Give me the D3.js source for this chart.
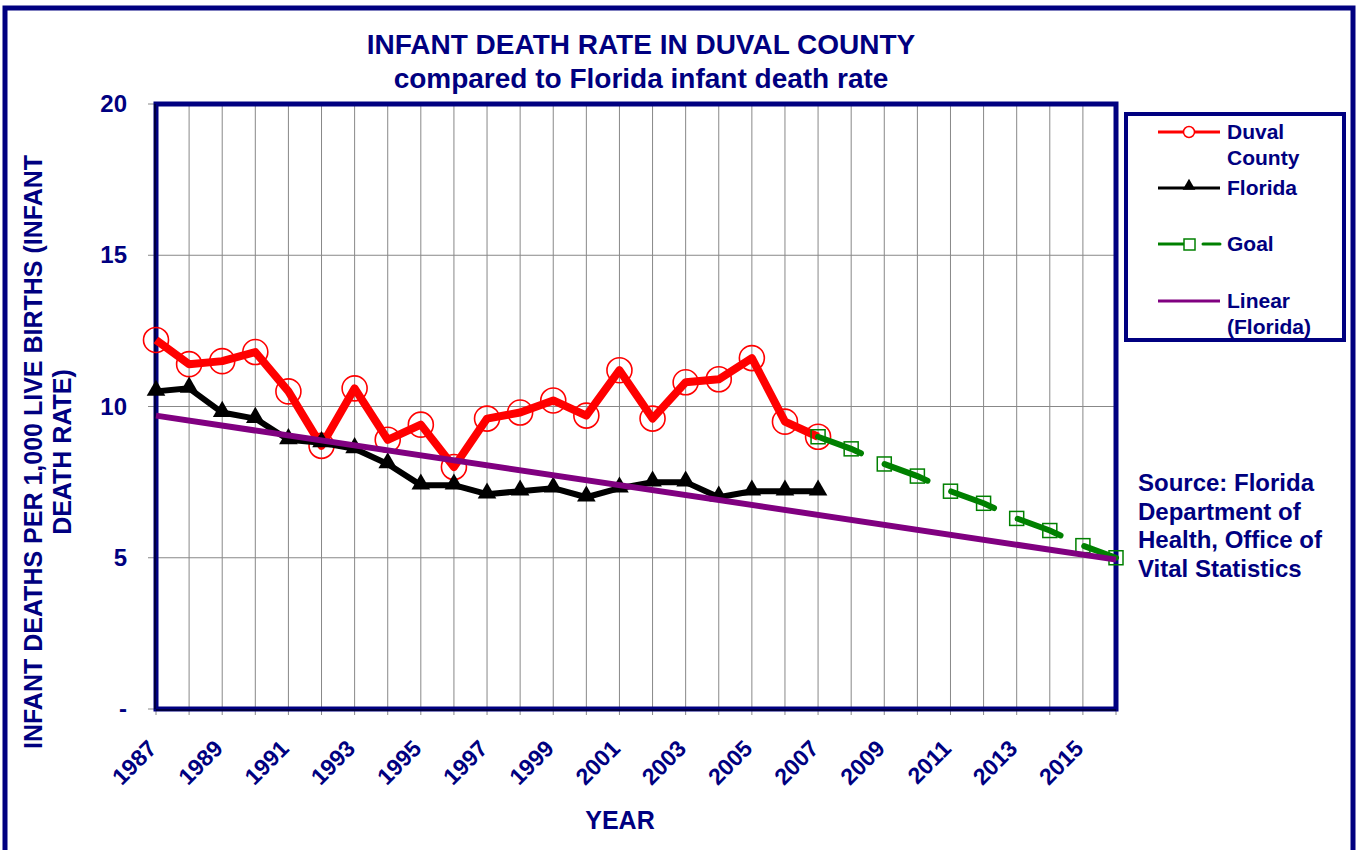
<!DOCTYPE html>
<html>
<head>
<meta charset="utf-8">
<script src="https://cdn.jsdelivr.net/npm/d3@7"></script>
<style>
  body { margin: 0; background: #fff; }
  svg text { font-family: "Liberation Sans", Arial, sans-serif; font-weight: bold; fill: #000080; }
</style>
</head>
<body>
<script>
// ---- data ----
var years = d3.range(1987, 2008);
var duval = [12.2, 11.4, 11.5, 11.8, 10.5, 8.7, 10.6, 8.9, 9.4, 8.0, 9.6, 9.8, 10.2, 9.7, 11.2, 9.6, 10.8, 10.9, 11.6, 9.5, 9.0];
var florida = [10.5, 10.6, 9.8, 9.6, 8.9, 8.8, 8.6, 8.1, 7.4, 7.4, 7.1, 7.2, 7.3, 7.0, 7.3, 7.5, 7.5, 7.0, 7.2, 7.2, 7.2];
var goalYears = d3.range(2007, 2017);
var goal = [9.0, 8.6, 8.1, 7.7, 7.2, 6.8, 6.3, 5.9, 5.4, 5.0];
var yTicks = [0, 5, 10, 15, 20];
var yTickLabels = ["-", "5", "10", "15", "20"];
var xLabelYears = d3.range(1987, 2016, 2);
var sourceLines = ["Source: Florida", "Department of", "Health, Office of", "Vital Statistics"];

var W = 1357, H = 850;
var navy = "#000080", red = "#ff0000", green = "#008000", purple = "#800080";

var svg = d3.select("body").append("svg")
            .attr("width", W)
            .attr("height", H);

// outer frame
svg.append("rect")
   .attr("x", 5).attr("y", 8).attr("width", 1348).attr("height", 900)
   .attr("fill", "none").attr("stroke", navy).attr("stroke-width", 5);

// plot area
var px0 = 156, px1 = 1116, py0 = 104, py1 = 709;
var x = d3.scaleLinear().domain([1987, 2016]).range([px0, px1]);
var y = d3.scaleLinear().domain([0, 20]).range([py1, py0]);

var g = svg.append("g");

// grid lines
g.selectAll(".vgrid").data(d3.range(1988, 2016)).enter().append("line")
  .attr("x1", function(d){ return x(d); }).attr("x2", function(d){ return x(d); })
  .attr("y1", py0).attr("y2", py1)
  .attr("stroke", "#888").attr("stroke-width", 1);
g.selectAll(".hgrid").data([5, 10, 15]).enter().append("line")
  .attr("x1", px0).attr("x2", px1)
  .attr("y1", function(d){ return y(d); }).attr("y2", function(d){ return y(d); })
  .attr("stroke", "#888").attr("stroke-width", 1);

// x ticks (every year) below axis
g.selectAll(".xtick").data(d3.range(1987, 2017)).enter().append("line")
  .attr("x1", function(d){ return x(d); }).attr("x2", function(d){ return x(d); })
  .attr("y1", py1).attr("y2", py1 + 6)
  .attr("stroke", "#888").attr("stroke-width", 1);
// y ticks
g.selectAll(".ytick").data(yTicks).enter().append("line")
  .attr("x1", px0 - 8).attr("x2", px0)
  .attr("y1", function(d){ return y(d); }).attr("y2", function(d){ return y(d); })
  .attr("stroke", "#888").attr("stroke-width", 1);

// plot border
g.append("rect")
  .attr("x", px0).attr("y", py0).attr("width", px1 - px0).attr("height", py1 - py0)
  .attr("fill", "none").attr("stroke", navy).attr("stroke-width", 5);
g.append("line").attr("x1", px0 - 1).attr("x2", px0 - 1).attr("y1", py0).attr("y2", py1)
  .attr("stroke", "#000").attr("stroke-width", 1);
g.append("line").attr("x1", px0).attr("x2", px1).attr("y1", py1 + 1).attr("y2", py1 + 1)
  .attr("stroke", "#000").attr("stroke-width", 1);

// y tick labels
g.selectAll(".ylab").data(yTicks).enter().append("text")
  .attr("x", 127).attr("y", function(d){ return y(d) + 8; })
  .attr("text-anchor", "end").attr("font-size", 24)
  .text(function(d, i){ return yTickLabels[i]; });

// x tick labels, rotated
g.selectAll(".xlab").data(xLabelYears).enter().append("text")
  .attr("transform", function(d){ return "translate(" + (x(d) + 2) + "," + (py1 + 41) + ") rotate(-45)"; })
  .attr("text-anchor", "end").attr("font-size", 23)
  .text(function(d){ return d; });

// titles
svg.append("text").attr("x", 641).attr("y", 54).attr("text-anchor", "middle")
   .attr("font-size", 28).text("INFANT DEATH RATE IN DUVAL COUNTY");
svg.append("text").attr("x", 641).attr("y", 88).attr("text-anchor", "middle")
   .attr("font-size", 28).text("compared to Florida infant death rate");
svg.append("text").attr("x", 620).attr("y", 829).attr("text-anchor", "middle")
   .attr("font-size", 25).text("YEAR");
svg.append("text").attr("transform", "translate(42,452) rotate(-90)").attr("text-anchor", "middle")
   .attr("font-size", 25).text("INFANT DEATHS PER 1,000 LIVE BIRTHS (INFANT");
svg.append("text").attr("transform", "translate(71,452) rotate(-90)").attr("text-anchor", "middle")
   .attr("font-size", 25).text("DEATH RATE)");

// linear trend of Florida series (least squares, as the spreadsheet trendline)
var mx = d3.mean(years), my = d3.mean(florida);
var sxy = d3.sum(years, function(d, i){ return (d - mx) * (florida[i] - my); });
var sxx = d3.sum(years, function(d){ return (d - mx) * (d - mx); });
var slope = sxy / sxx, icpt = my - slope * mx;

var line = d3.line().x(function(d){ return x(d[0]); }).y(function(d){ return y(d[1]); });

// Duval
var duvalPts = years.map(function(d, i){ return [d, duval[i]]; });
g.append("path").datum(duvalPts).attr("d", line)
  .attr("fill", "none").attr("stroke", red).attr("stroke-width", 8).attr("stroke-linejoin", "round");
g.selectAll(".dmark").data(duvalPts).enter().append("circle")
  .attr("cx", function(d){ return x(d[0]); }).attr("cy", function(d){ return y(d[1]); })
  .attr("r", 12.5).attr("fill", "none").attr("stroke", red).attr("stroke-width", 1.6);

// Florida
var flPts = years.map(function(d, i){ return [d, florida[i]]; });
g.append("path").datum(flPts).attr("d", line)
  .attr("fill", "none").attr("stroke", "#000").attr("stroke-width", 6).attr("stroke-linejoin", "round");
var tri = d3.symbol().type(d3.symbolTriangle).size(150);
g.selectAll(".fmark").data(flPts).enter().append("path")
  .attr("transform", function(d){ return "translate(" + x(d[0]) + "," + (y(d[1]) - 1) + ")"; })
  .attr("d", tri).attr("fill", "#000");

// Goal
var goalPts = goalYears.map(function(d, i){ return [d, goal[i]]; });
g.append("path").datum(goalPts).attr("d", line)
  .attr("fill", "none").attr("stroke", green).attr("stroke-width", 6)
  .attr("stroke-linecap", "round").attr("stroke-dasharray", "46,26");
g.selectAll(".gmark").data(goalPts).enter().append("rect")
  .attr("x", function(d){ return x(d[0]) - 7; }).attr("y", function(d){ return y(d[1]) - 7; })
  .attr("width", 14).attr("height", 14)
  .attr("fill", "none").attr("stroke", green).attr("stroke-width", 1.5);

// trend line
g.append("line")
  .attr("x1", x(1987)).attr("y1", y(icpt + slope * 1987))
  .attr("x2", x(2016)).attr("y2", y(icpt + slope * 2016))
  .attr("stroke", purple).attr("stroke-width", 6);

// legend
var leg = svg.append("g");
leg.append("rect").attr("x", 1126).attr("y", 114).attr("width", 218).attr("height", 226)
   .attr("fill", "#fff").attr("stroke", navy).attr("stroke-width", 4);
var lx0 = 1158, lx1 = 1220, lmid = 1189, tx = 1227, fs = 21;
// Duval
leg.append("line").attr("x1", lx0).attr("x2", lx1).attr("y1", 132).attr("y2", 132)
   .attr("stroke", red).attr("stroke-width", 3);
leg.append("circle").attr("cx", lmid).attr("cy", 132).attr("r", 5.5)
   .attr("fill", "#fff").attr("stroke", red).attr("stroke-width", 1.5);
leg.append("text").attr("x", tx).attr("y", 139).attr("font-size", fs).text("Duval");
leg.append("text").attr("x", tx).attr("y", 165).attr("font-size", fs).text("County");
// Florida
leg.append("line").attr("x1", lx0).attr("x2", lx1).attr("y1", 188).attr("y2", 188)
   .attr("stroke", "#000").attr("stroke-width", 3);
leg.append("path").attr("transform", "translate(" + lmid + ",186)")
   .attr("d", d3.symbol().type(d3.symbolTriangle).size(70)).attr("fill", "#000");
leg.append("text").attr("x", tx).attr("y", 195).attr("font-size", fs).text("Florida");
// Goal
leg.append("line").attr("x1", lx0).attr("x2", lmid).attr("y1", 244).attr("y2", 244)
   .attr("stroke", green).attr("stroke-width", 3);
leg.append("line").attr("x1", lmid + 14).attr("x2", lx1).attr("y1", 244).attr("y2", 244)
   .attr("stroke", green).attr("stroke-width", 3).attr("stroke-linecap", "round");
leg.append("rect").attr("x", lmid - 5).attr("y", 239).attr("width", 11).attr("height", 11)
   .attr("fill", "#fff").attr("stroke", green).attr("stroke-width", 1.5);
leg.append("text").attr("x", tx).attr("y", 251).attr("font-size", fs).text("Goal");
// Linear
leg.append("line").attr("x1", lx0).attr("x2", lx1).attr("y1", 301).attr("y2", 301)
   .attr("stroke", purple).attr("stroke-width", 3);
leg.append("text").attr("x", tx).attr("y", 308).attr("font-size", fs).text("Linear");
leg.append("text").attr("x", tx).attr("y", 334).attr("font-size", fs).text("(Florida)");

// source note
svg.selectAll(".src").data(sourceLines).enter().append("text")
   .attr("x", 1138).attr("y", function(d, i){ return 491 + i * 28.5; })
   .attr("font-size", 24).text(function(d){ return d; });
</script>
</body>
</html>
